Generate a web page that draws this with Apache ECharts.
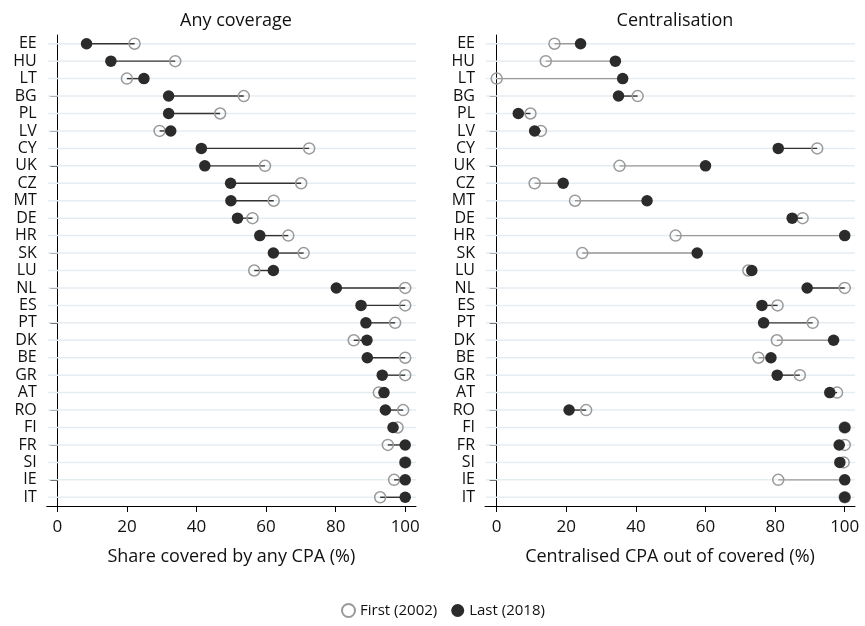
<!DOCTYPE html>
<html>
<head>
<meta charset="utf-8">
<script src="https://cdn.jsdelivr.net/npm/echarts@6/dist/echarts.min.js"></script>
<style>
html,body{margin:0;padding:0;background:#fff;}
#chart{width:865px;height:626px;}
</style>
</head>
<body>
<div id="chart"></div>
<script>
const countries = ['EE','HU','LT','BG','PL','LV','CY','UK','CZ','MT','DE','HR','SK','LU','NL','ES','PT','DK','BE','GR','AT','RO','FI','FR','SI','IE','IT'];
const anyFirst = [22.2,33.9,20.0,53.6,46.8,29.4,72.4,59.7,70.1,62.2,56.1,66.4,70.8,56.6,100,100,97.1,85.2,100,100,92.4,99.4,97.8,95.0,100,96.8,92.8];
const anyLast  = [8.4,15.4,24.9,32.0,32.0,32.6,41.4,42.4,49.8,49.9,51.8,58.2,62.1,62.1,80.2,87.3,88.7,89.0,89.1,93.4,93.9,94.3,96.5,100,100,100,100];
const centFirst = [16.6,14.1,0,40.5,9.7,12.7,92.1,35.3,10.9,22.5,87.9,51.4,24.6,72.3,100,80.7,90.8,80.5,75.2,87.1,97.8,25.7,100,100,99.7,80.9,100];
const centLast  = [24.1,34.1,36.2,35.0,6.2,10.9,80.9,60.0,19.1,43.2,84.9,100,57.6,73.3,89.2,76.2,76.7,96.8,78.8,80.6,95.7,20.8,100,98.4,98.6,100,100];
const xTicks = [0,20,40,60,80,100];
const panelTitles = ['Any coverage','Centralisation'];
const axisTitles = ['Share covered by any CPA (%)','Centralised CPA out of covered (%)'];
const seriesNames = ['First (2002)','Last (2018)'];

const FONT = 'Open Sans';
const chart = echarts.init(document.getElementById('chart'), null, {renderer:'canvas'});

function xAxisFor(gi, min, max){
  return {
    type:'value', gridIndex:gi, min:min, max:max,
    splitLine:{show:false},
    axisLine:{show:true, onZero:false, lineStyle:{color:'#000', width:1}},
    axisTick:{show:true, length:6, lineStyle:{color:'#000'}, customValues:xTicks},
    axisLabel:{fontFamily:FONT, fontSize:17, color:'#111', margin:13, customValues:xTicks},
    name:axisTitles[gi], nameLocation:'middle', nameGap:42,
    nameTextStyle:{fontFamily:FONT, fontSize:18, color:'#111'}
  };
}
function yAxisFor(gi){
  return {
    type:'category', gridIndex:gi, data:countries, inverse:true, boundaryGap:true,
    axisLine:{show:true, lineStyle:{color:'#000', width:1}},
    axisTick:{show:true, length:7, alignWithLabel:true, lineStyle:{color:'#000'}},
    axisLabel:{fontFamily:FONT, fontSize:16, color:'#111', margin:10, interval:0},
    splitLine:{show:false}
  };
}

function connector(gi, first, last, mode){
  const data = countries.map((c,i)=>[i, first[i], last[i]]);
  return {
    type:'custom', xAxisIndex:gi, yAxisIndex:gi, silent:true, z:2,
    data:data,
    renderItem:function(params, api){
      const i = api.value(0);
      const a = api.coord([api.value(1), countries[i]]);
      const b = api.coord([api.value(2), countries[i]]);
      let color = '#333';
      if (mode === 'dir') color = api.value(2) > api.value(1) ? '#9a9a9a' : '#333';
      return {type:'line', shape:{x1:a[0], y1:a[1], x2:b[0], y2:b[1]}, style:{stroke:color, lineWidth:1.4}};
    }
  };
}
function gridlines(gi, min, max){
  const data = countries.map((c,i)=>[i]);
  return {
    type:'custom', xAxisIndex:gi, yAxisIndex:gi, silent:true, z:1,
    data:data,
    renderItem:function(params, api){
      const i = api.value(0);
      const a = api.coord([min, countries[i]]);
      const b = api.coord([max, countries[i]]);
      return {type:'line', shape:{x1:a[0]+1, y1:a[1], x2:b[0], y2:b[1]}, style:{stroke:'#e5edf1', lineWidth:1.5}};
    }
  };
}
function firstSeries(gi, vals){
  return {
    name:seriesNames[0], type:'scatter', xAxisIndex:gi, yAxisIndex:gi, z:3,
    symbol:'circle', symbolSize:11,
    itemStyle:{color:'rgba(255,255,255,0)', borderColor:'#9a9a9a', borderWidth:1.5, opacity:1},
    data:vals.map((v,i)=>[v, countries[i]])
  };
}
function lastSeries(gi, vals){
  return {
    name:seriesNames[1], type:'scatter', xAxisIndex:gi, yAxisIndex:gi, z:4,
    symbol:'circle', symbolSize:11.5,
    itemStyle:{color:'#2b2b2b', opacity:1},
    data:vals.map((v,i)=>[v, countries[i]])
  };
}

const L = {min:-3.05, max:103.1};
const R = {min:-3.36, max:102.95};

chart.setOption({
  animation:false,
  backgroundColor:'#fff',
  title:[
    {text:panelTitles[0], left:231, top:7, textAlign:'center', textStyle:{fontFamily:FONT, fontSize:18, fontWeight:'normal', color:'#111'}},
    {text:panelTitles[1], left:670, top:7, textAlign:'center', textStyle:{fontFamily:FONT, fontSize:18, fontWeight:'normal', color:'#111'}}
  ],
  grid:[
    {left:46.7, top:35, width:369.3, height:471},
    {left:485, top:35, width:370, height:471}
  ],
  xAxis:[xAxisFor(0, L.min, L.max), xAxisFor(1, R.min, R.max)],
  yAxis:[yAxisFor(0), yAxisFor(1)],
  legend:{
    data:seriesNames, left:336, top:598, itemGap:14, itemWidth:13, itemHeight:13,
    icon:'circle',
    textStyle:{fontFamily:FONT, fontSize:15, color:'#111'}
  },
  series:[
    gridlines(0, L.min, L.max), gridlines(1, R.min, R.max),
    connector(0, anyFirst, anyLast, 'dark'),
    connector(1, centFirst, centLast, 'dir'),
    firstSeries(0, anyFirst), lastSeries(0, anyLast),
    firstSeries(1, centFirst), lastSeries(1, centLast)
  ]
});
</script>
</body>
</html>
